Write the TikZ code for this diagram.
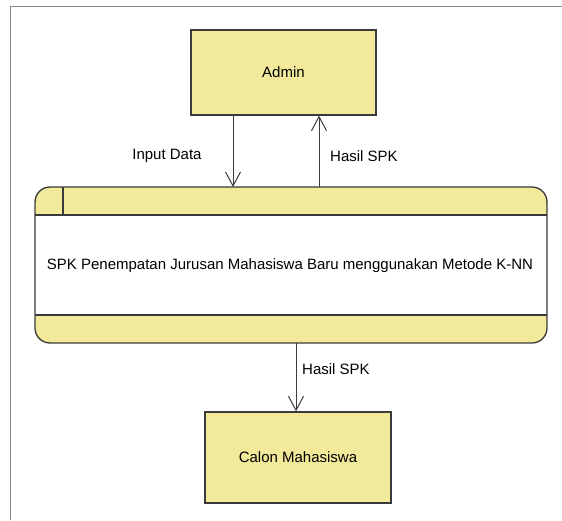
\documentclass[tikz,border=0pt]{standalone}
\usepackage{fontspec}
\setmainfont{Liberation Sans}
\usetikzlibrary{arrows.meta}
\definecolor{boxfill}{HTML}{F3E99B}
\definecolor{edge}{HTML}{3A3A3A}
\definecolor{framegray}{HTML}{8A8A8A}
\tikzset{
  entity/.style={draw=edge, line width=1.3pt, fill=boxfill, font=\fontsize{15}{17}\selectfont, text=black},
  flow/.style={draw=edge, line width=1pt, -{Straight Barb[length=14pt,width=15pt,line width=1pt]}},
  flowlabel/.style={font=\fontsize{15}{17}\selectfont, text=black},
}
\begin{document}
\begin{tikzpicture}[x=1pt,y=-1pt]
\useasboundingbox (0,0) rectangle (562,520);
% outer frame (left and top edges)
\draw[framegray, line width=1.6pt] (10.5,520) -- (10.5,6.5) -- (562,6.5);

% external entities
\node[entity, minimum width=185pt, minimum height=85pt] (admin) at (283.5,72.5) {Admin};
\node[entity, minimum width=186pt, minimum height=91pt] (calon) at (298,457.5) {Calon Mahasiswa};

% process box with header and footer bands
\begin{scope}
  \clip[rounded corners=15pt] (35,187) rectangle (547,343);
  \fill[white] (35,187) rectangle (547,343);
  \fill[boxfill] (35,187) rectangle (547,215);
  \fill[boxfill] (35,315) rectangle (547,343);
\end{scope}
\draw[edge, line width=1.3pt] (35,215) -- (547,215);
\draw[edge, line width=1.3pt] (35,315) -- (547,315);
\draw[edge, line width=1.3pt] (63,187) -- (63,215);
\draw[edge, line width=1.3pt, rounded corners=15pt] (35,187) rectangle (547,343);
\node[flowlabel, inner sep=0pt] (proc) at (290,266) {SPK Penempatan Jurusan Mahasiswa Baru menggunakan Metode K-NN};
\coordinate (procin) at (233,187);
\coordinate (procout) at (319,187);
\coordinate (procdown) at (296,343);

% data flows
\draw[flow] (admin.south -| procin) -- (procin);
\draw[flow] (procout) -- (admin.south -| procout);
\draw[flow] (procdown) -- (calon.north -| procdown);

\node[flowlabel] (lin) at (167,156) {Input Data};
\node[flowlabel] (lout) at (364,156) {Hasil SPK};
\node[flowlabel] (ldown) at (336,369) {Hasil SPK};
\end{tikzpicture}
\end{document}
